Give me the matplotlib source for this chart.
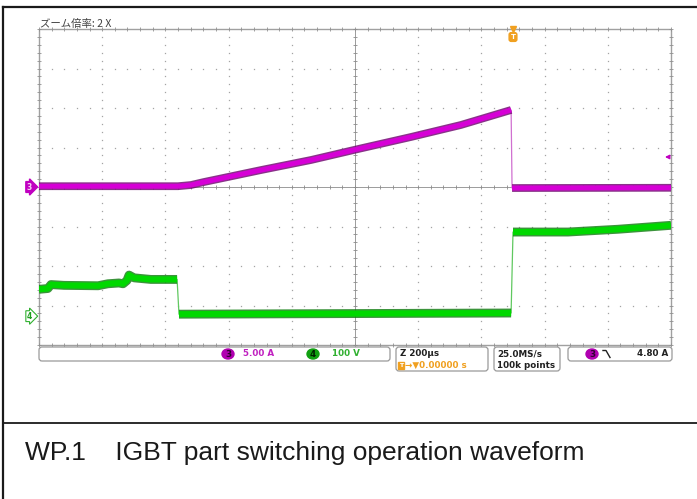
import numpy as np
import matplotlib
matplotlib.use("Agg")
import matplotlib.pyplot as plt
import matplotlib.transforms as mtransforms
from matplotlib.patches import FancyBboxPatch, Ellipse, Rectangle
from matplotlib.lines import Line2D

# ---------------- data ----------------
ch3_time_us = [-1500, -1060, -1019, -978, -797, -639, -490, -323, -165, -6, -3, 500]
ch3_current_a = [0.1, 0.1, 0.25, 0.63, 2.15, 3.42, 4.81, 6.33, 7.85, 9.75, -0.13, -0.1]

ch4_time_us = [-1500, -1472, -1462, -1421, -1313, -1282, -1247, -1234, -1222, -1215,
               -1199, -1146, -1063, -1057, -6, 0, 174, 332, 500]
ch4_voltage_v = [68, 70, 80, 78, 77, 82, 84, 82, 90, 104,
                 97, 93, 93, 5, 8, 213, 213, 220, 230]

ch3_scale_a = 5.0        # A / div
ch4_scale_v = 100.0      # V / div
time_scale_us = 200.0    # us / div
ch4_offset_div = -3.27   # ch4 ground position (div from centre)
trigger_marker_a = 3.8   # trigger-level arrow position as drawn

zoom_label = "ズーム倍率: 2 X"
ch3_label, ch4_label = "5.00 A", "100 V"
timebase_label, trig_pos_label = "Z 200µs", "→▼0.00000 s"
rate_label, points_label = "25.0MS/s", "100k points"
trig_level_label = "4.80 A"
caption = "WP.1    IGBT part switching operation waveform"

# ---------------- figure ----------------
W, H = 697, 499
fig = plt.figure(figsize=(W / 100, H / 100), dpi=100)
fig.patch.set_facecolor("white")
pix = mtransforms.Affine2D().scale(1 / W, -1 / H).translate(0, 1) + fig.transFigure

gl, gt, gr, gb = 39, 29, 671, 345
rect = [gl / W, 1 - gb / H, (gr - gl) / W, (gb - gt) / H]

# graticule
gax = fig.add_axes(rect, zorder=0)
gax.set_xlim(0, 10)
gax.set_ylim(0, 8)
gax.axis("off")
gcol = "#a4a4a4"
hx = np.arange(0, 10.001, 0.2)
vy = np.arange(0, 8.001, 0.2)
for i in [1, 2, 3, 4, 6, 7, 8, 9]:
    gax.plot([i] * len(vy), vy, ls="none", marker="s", ms=0.9, color=gcol, mew=0)
for j in [1, 2, 3, 5, 6, 7]:
    gax.plot(hx, [j] * len(hx), ls="none", marker="s", ms=0.9, color=gcol, mew=0)
gax.plot([0, 10], [4, 4], color="#8c8c8c", lw=0.6)
gax.plot([5, 5], [0, 8], color="#8c8c8c", lw=0.6)
gax.plot(hx, [4] * len(hx), ls="none", marker="|", ms=3.5, mew=0.6, color="#8c8c8c")
gax.plot([5] * len(vy), vy, ls="none", marker="_", ms=3.5, mew=0.6, color="#8c8c8c")
gax.add_patch(Rectangle((0, 0), 10, 8, fill=False, ec="#a0a0a0", lw=1.0, clip_on=False))
for yy in (0, 8):
    gax.plot(hx, [yy] * len(hx), ls="none", marker="|", ms=3.5, mew=0.6,
             color="#909090", clip_on=False)
for xx in (0, 10):
    gax.plot([xx] * len(vy), vy, ls="none", marker="_", ms=3.5, mew=0.6,
             color="#909090", clip_on=False)

# channel axes
xlim = (-1500, 500)
ax3 = fig.add_axes(rect, zorder=1)
ax3.set_facecolor("none")
ax3.set_xlim(*xlim)
ax3.set_ylim(-4 * ch3_scale_a, 4 * ch3_scale_a)
ax3.axis("off")

ax4 = fig.add_axes(rect, zorder=2)
ax4.set_facecolor("none")
ax4.set_xlim(*xlim)
ax4.set_ylim((-4 - ch4_offset_div) * ch4_scale_v, (4 - ch4_offset_div) * ch4_scale_v)
ax4.axis("off")


def draw_trace(a, t, v, scale, bright, dark, thin, lw):
    t = np.asarray(t, float)
    v = np.asarray(v, float)
    a.plot(t, v, color=thin, lw=0.9, zorder=2)
    cuts = list(np.where(np.abs(np.diff(v)) / scale > 0.5)[0] + 1)
    edges = [0] + cuts + [len(v)]
    for s, e in zip(edges[:-1], edges[1:]):
        a.plot(t[s:e], v[s:e], color=dark, lw=lw + 2.0, alpha=0.8,
               solid_capstyle="butt", solid_joinstyle="round", zorder=3)
        a.plot(t[s:e], v[s:e], color=bright, lw=lw,
               solid_capstyle="butt", solid_joinstyle="round", zorder=4)


draw_trace(ax3, ch3_time_us, ch3_current_a, ch3_scale_a,
           "#d600d6", "#6c006c", "#d070d0", 3.6)
draw_trace(ax4, ch4_time_us, ch4_voltage_v, ch4_scale_v,
           "#00d800", "#0b7a0b", "#60c860", 4.4)

# ground markers
ax3.annotate("3", xy=(0, 0), xycoords=("axes fraction", "data"),
             xytext=(-7, 0), textcoords="offset pixels", ha="right", va="center",
             fontsize=5.5, fontweight="bold", color="#f4d0f4",
             bbox=dict(boxstyle="rarrow,pad=0.12", fc="#c000c0", ec="#c000c0"),
             annotation_clip=False)
ax4.annotate("4", xy=(0, 0), xycoords=("axes fraction", "data"),
             xytext=(-7, 0), textcoords="offset pixels", ha="right", va="center",
             fontsize=5.5, fontweight="bold", color="#20a020",
             bbox=dict(boxstyle="rarrow,pad=0.12", fc="white", ec="#30b030", lw=0.8),
             annotation_clip=False)

# trigger position marker
ax3.plot([0], [4 * ch3_scale_a], marker="v", ms=4, color="#f0a020", clip_on=False, zorder=6)
ax3.annotate("T", xy=(0, 1), xycoords=("data", "axes fraction"),
             xytext=(0, -8), textcoords="offset pixels", ha="center", va="center",
             fontsize=5, fontweight="bold", color="white",
             bbox=dict(boxstyle="round,pad=0.2,rounding_size=0.3", fc="#f0a020", ec="#f0a020"),
             annotation_clip=False)

# trigger level arrow
ax3.annotate("", xy=(0.986, trigger_marker_a), xycoords=("axes fraction", "data"),
             xytext=(1.0, trigger_marker_a), textcoords=("axes fraction", "data"),
             arrowprops=dict(arrowstyle="-|>", color="#c000c0", lw=1.0, mutation_scale=6))

# zoom label
fig.text(40, 23.5, zoom_label, transform=pix, ha="left", va="center", fontsize=7.5,
         color="#404040", family=["Noto Sans CJK JP", "DejaVu Sans"])

# status bar
def box(x0, y0, x1, y1):
    fig.add_artist(FancyBboxPatch((x0, y0), x1 - x0, y1 - y0,
                                  boxstyle="round,pad=0,rounding_size=3",
                                  transform=pix, fc="white", ec="#9a9a9a", lw=0.9))

box(39, 347, 390, 361)
box(396, 347, 488, 371)
box(494, 347, 560, 371)
box(568, 347, 672, 361)

sfont = dict(fontsize=6.3, fontweight="bold", family="DejaVu Sans")

def badge(x, y, s, fc, tc):
    fig.add_artist(Ellipse((x, y), 12, 10, transform=pix, fc=fc, ec=fc))
    fig.text(x, y + 0.5, s, transform=pix, ha="center", va="center", color=tc, **sfont)

badge(228, 354, "3", "#b000b0", "#300030")
fig.text(243, 354, ch3_label, transform=pix, ha="left", va="center", color="#c020c0", **sfont)
badge(313, 354, "4", "#10a010", "#002000")
fig.text(332, 354, ch4_label, transform=pix, ha="left", va="center", color="#30b030", **sfont)

fig.text(400, 354, timebase_label, transform=pix, ha="left", va="center", color="#202020", **sfont)
fig.add_artist(Rectangle((398, 362), 6, 7, transform=pix, fc="#f0a020", ec="#f0a020"))
fig.text(401, 365.7, "T", transform=pix, ha="center", va="center", color="white",
         fontsize=4.5, fontweight="bold")
fig.text(405, 365.5, trig_pos_label, transform=pix, ha="left", va="center", color="#f0a020", **sfont)

fig.text(497, 354, rate_label, transform=pix, ha="left", va="center", color="#202020", **sfont)
fig.text(497, 365.5, points_label, transform=pix, ha="left", va="center", color="#202020", **sfont)

badge(592, 354, "3", "#b000b0", "#300030")
fig.add_artist(Line2D([603, 606, 610], [350.5, 350.5, 357.5], transform=pix,
                      color="#202020", lw=1.0))
fig.text(668, 354, trig_level_label, transform=pix, ha="right", va="center", color="#202020", **sfont)

# outer frame
for xs, ys, lw in [([3, 697], [7, 7], 1.6), ([3, 3], [7, 499], 1.6), ([3, 697], [423, 423], 1.3)]:
    fig.add_artist(Line2D(xs, ys, transform=pix, color="#1a1a1a", lw=lw))

# caption
fig.text(25, 460, caption, transform=pix, ha="left", va="baseline", fontsize=19,
         color="#1a1a1a", family="Liberation Sans")

fig.savefig("out.png", dpi=100, facecolor="white")
